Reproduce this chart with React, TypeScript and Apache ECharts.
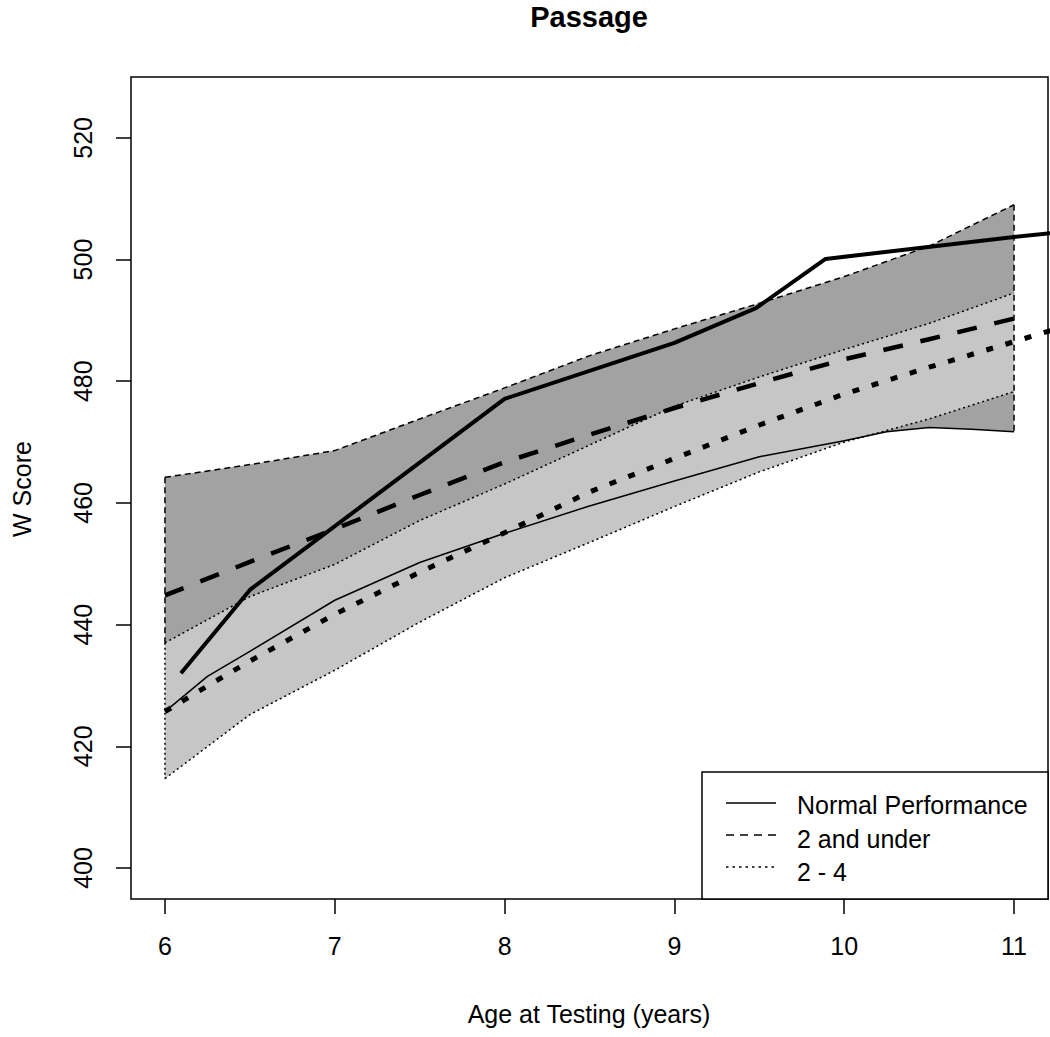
import React, { useEffect, useRef } from "react";
import * as echarts from "echarts";

// ---- data ----
const bandAges = [6, 6.5, 7, 7.5, 8, 8.5, 9, 9.5, 10, 10.5, 11];

// "2 and under" confidence band (dark grey)
const under2UpperAges = [6, 6.5, 7, 7.25, 7.5, 8, 8.5, 9, 9.5, 10, 10.5, 11];
const under2Upper = [464.2, 466.3, 468.6, 471.2, 473.8, 478.9, 484.2, 488.6, 492.8, 497.2, 502.2, 509.0];
const under2LowerAges = [6, 6.25, 6.5, 7, 7.5, 8, 8.5, 9, 9.5, 10, 10.25, 10.5, 10.75, 11];
const under2Lower = [425.7, 431.5, 435.6, 444.0, 450.2, 455.0, 459.5, 463.6, 467.6, 470.2, 471.7, 472.4, 472.1, 471.7];

// "2 - 4" confidence band (light grey)
const between24Upper = [437.0, 444.6, 449.9, 457.1, 463.1, 469.5, 475.9, 480.7, 485.2, 489.5, 494.5];
const between24Lower = [414.7, 425.2, 432.5, 440.4, 447.7, 453.5, 459.4, 465.1, 470.0, 473.8, 478.3];

// mean curves
const under2Mean = [444.8, 450.3, 455.7, 461.3, 466.7, 471.2, 475.6, 479.7, 483.6, 486.9, 490.3];
const between24Ages = [6, 6.25, 6.5, 7, 7.5, 8, 8.5, 9, 9.5, 10, 10.5, 11, 11.25];
const between24Mean = [425.7, 429.9, 434.0, 441.7, 448.6, 455.1, 461.8, 467.3, 472.8, 477.9, 482.3, 486.5, 488.6];

// normal performance
const normalAges = [6.094, 6.5, 8, 9, 9.48, 9.89, 11.0, 11.3];
const normalScores = [432.0, 445.7, 477.1, 486.3, 492.0, 500.1, 503.7, 504.6];

// axes
const xTicks = [6, 7, 8, 9, 10, 11];
const yTicks = [400, 420, 440, 460, 480, 500, 520];

const legendLabels = ["Normal Performance", "2 and under", "2 - 4"];

const FONT = "'Liberation Sans', Arial, sans-serif";
const DARK = "#a2a2a2";
const LIGHT = "#c6c6c6";

function pairs(xs: number[], ys: number[]) {
  return xs.map((x, i) => [x, ys[i]]);
}

function lineSeries(xs: number[], ys: number[], width: number, type: any, z: number, name?: string) {
  return {
    type: "line",
    name,
    data: pairs(xs, ys),
    showSymbol: false,
    symbol: "none",
    silent: true,
    clip: true,
    z,
    lineStyle: { color: "#000", width, type, cap: "butt", join: "round" },
  };
}

function bandSeries(upX: number[], upY: number[], loX: number[], loY: number[], fill: string, z: number) {
  return {
    type: "custom",
    silent: true,
    z,
    data: [[upX[0], upY[0]]],
    renderItem: (_params: any, api: any) => {
      const top = upX.map((x, i) => api.coord([x, upY[i]]));
      const bottom = loX.map((x, i) => api.coord([x, loY[i]])).reverse();
      return {
        type: "polygon",
        shape: { points: top.concat(bottom) },
        style: { fill, stroke: "none" },
      };
    },
  };
}

export default function App() {
  const ref = useRef<HTMLDivElement>(null);

  useEffect(() => {
    if (!ref.current) return;
    const chart = echarts.init(ref.current, undefined, { renderer: "svg" });
    const lastUp = under2Upper.length - 1;
    const lastLo = under2Lower.length - 1;

    const option: any = {
      animation: false,
      backgroundColor: "#fff",
      textStyle: { fontFamily: FONT },
      grid: {
        left: 131,
        top: 77,
        right: 2,
        bottom: 138,
        show: true,
        borderColor: "#000",
        borderWidth: 1.5,
        backgroundColor: "transparent",
        containLabel: false,
      },
      xAxis: {
        type: "value",
        min: 5.8,
        max: 11.2,
        splitLine: { show: false },
        axisLine: { show: false },
        axisTick: {
          show: true,
          inside: false,
          length: 15,
          lineStyle: { color: "#000", width: 1.5 },
          customValues: xTicks,
        },
        axisLabel: {
          customValues: xTicks,
          fontSize: 25,
          color: "#000",
          fontFamily: FONT,
          margin: 34,
        },
      },
      yAxis: {
        type: "value",
        min: 394.9,
        max: 530,
        splitLine: { show: false },
        axisLine: { show: false },
        axisTick: {
          show: true,
          inside: false,
          length: 15,
          lineStyle: { color: "#000", width: 1.5 },
          customValues: yTicks,
        },
        axisLabel: {
          customValues: yTicks,
          fontSize: 25,
          color: "#000",
          fontFamily: FONT,
          rotate: 90,
          margin: 36,
        },
      },
      series: [
        bandSeries(under2UpperAges, under2Upper, under2LowerAges, under2Lower, DARK, 1),
        bandSeries(bandAges, between24Upper, bandAges, between24Lower, LIGHT, 2),
        // band edges
        lineSeries(bandAges, between24Upper, 1.5, [2, 3], 3),
        lineSeries(bandAges, between24Lower, 1.5, [2, 3], 3),
        lineSeries([6, 6], [between24Upper[0], between24Lower[0]], 1.5, [2, 3], 3),
        lineSeries(under2UpperAges, under2Upper, 1.5, [6, 4], 3),
        lineSeries([6, 6], [under2Upper[0], between24Upper[0]], 1.5, [6, 4], 3),
        lineSeries([11, 11], [under2Upper[lastUp], under2Lower[lastLo]], 1.5, [6, 4], 3),
        lineSeries(under2LowerAges, under2Lower, 1.5, "solid", 4),
        // means
        lineSeries(between24Ages, between24Mean, 5, [7, 13], 5, legendLabels[2]),
        lineSeries(bandAges, under2Mean, 4.5, [20, 18], 6, legendLabels[1]),
        lineSeries(normalAges, normalScores, 4, "solid", 7, legendLabels[0]),
      ],
      graphic: [
        {
          type: "text",
          x: 589,
          y: 17,
          style: {
            text: "Passage",
            font: `bold 29px ${FONT}`,
            fill: "#000",
            textAlign: "center",
            textVerticalAlign: "middle",
          },
        },
        {
          type: "text",
          x: 589,
          y: 1014,
          style: {
            text: "Age at Testing (years)",
            font: `25px ${FONT}`,
            fill: "#000",
            textAlign: "center",
            textVerticalAlign: "middle",
          },
        },
        {
          type: "text",
          x: 22,
          y: 489,
          rotation: Math.PI / 2,
          style: {
            text: "W Score",
            font: `25px ${FONT}`,
            fill: "#000",
            textAlign: "center",
            textVerticalAlign: "middle",
          },
        },
        {
          type: "group",
          z: 100,
          children: [
            {
              type: "rect",
              shape: { x: 702, y: 772, width: 346, height: 127 },
              style: { fill: "#fff", stroke: "#000", lineWidth: 1.5 },
            },
            {
              type: "line",
              shape: { x1: 726, y1: 803, x2: 776, y2: 803 },
              style: { stroke: "#000", lineWidth: 1.5 },
            },
            {
              type: "line",
              shape: { x1: 726, y1: 835, x2: 776, y2: 835 },
              style: { stroke: "#000", lineWidth: 1.5, lineDash: [8, 6] },
            },
            {
              type: "line",
              shape: { x1: 726, y1: 867, x2: 776, y2: 867 },
              style: { stroke: "#000", lineWidth: 1.5, lineDash: [2.5, 4] },
            },
            ...legendLabels.map((t, i) => ({
              type: "text",
              x: 797,
              y: 805 + i * 33.5,
              style: {
                text: t,
                font: `25px ${FONT}`,
                fill: "#000",
                textAlign: "left",
                textVerticalAlign: "middle",
              },
            })),
          ],
        },
      ],
    };

    chart.setOption(option);
    return () => chart.dispose();
  }, []);

  return (
    <div
      ref={ref}
      style={{ position: "fixed", left: 0, top: 0, width: 1050, height: 1037, background: "#fff" }}
    />
  );
}
